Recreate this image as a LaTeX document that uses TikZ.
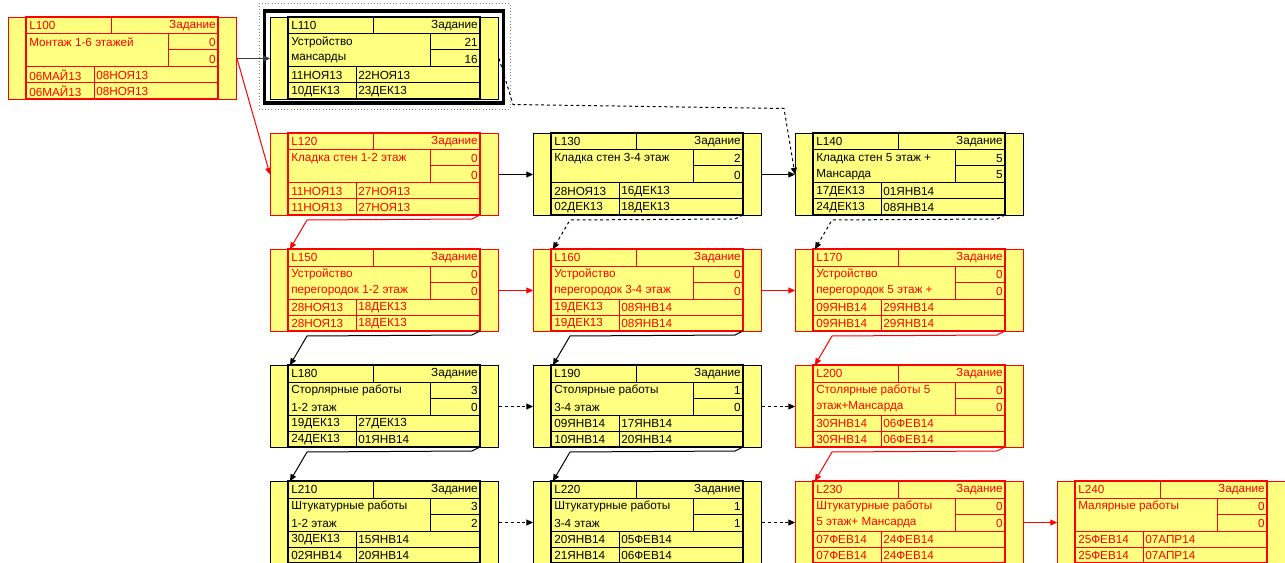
\documentclass[tikz,border=0pt]{standalone}
\usepackage{fontspec}
\setmainfont{Liberation Sans}
\usepackage{tikz}
\usetikzlibrary{arrows.meta}
\definecolor{boxyellow}{RGB}{255,255,128}
\definecolor{critred}{RGB}{255,0,0}
\definecolor{linkgrey}{RGB}{60,60,60}

\tikzset{
  taskbox/.style={rectangle, draw, fill=boxyellow, minimum width=171pt, minimum height=61.5pt, inner sep=0pt, anchor=north west, line width=0.75pt},
  cell/.style={inner sep=0pt, font=\fontsize{8.8}{10}\selectfont},
  tasklink/.style={line width=0.75pt, -{Triangle[length=5pt,width=4.5pt]}},
  critlink/.style={tasklink, critred},
  freelink/.style={tasklink, dash pattern=on 2.2pt off 2.2pt},
}

\begin{document}
\begin{tikzpicture}[x=0.75pt, y=-0.75pt]
    \useasboundingbox (0,0) rectangle (1285,563);
    % selected task frame
    \draw[gray, dotted] (259,3) rectangle (510,109);
    \draw[line width=2.6pt] (264.5,11) rectangle (503.5,103);
    % task boxes
    \foreach \n/\x/\y/\c/\ta/\tb/\na/\nb/\da/\db/\dc/\dd in {
        L100/8/17/critred/{Монтаж 1-6 этажей}/{}/0/0/06МАЙ13/08НОЯ13/06МАЙ13/08НОЯ13,
        L110/270/17/black/Устройство/мансарды/21/16/11НОЯ13/22НОЯ13/10ДЕК13/23ДЕК13,
        L120/270/133/critred/{Кладка стен 1-2 этаж}/{}/0/0/11НОЯ13/27НОЯ13/11НОЯ13/27НОЯ13,
        L130/533/133/black/{Кладка стен 3-4 этаж}/{}/2/0/28НОЯ13/16ДЕК13/02ДЕК13/18ДЕК13,
        L140/795/133/black/{Кладка стен 5 этаж +}/Мансарда/5/5/17ДЕК13/01ЯНВ14/24ДЕК13/08ЯНВ14,
        L150/270/249/critred/Устройство/{перегородок 1-2 этаж}/0/0/28НОЯ13/18ДЕК13/28НОЯ13/18ДЕК13,
        L160/533/249/critred/Устройство/{перегородок 3-4 этаж}/0/0/19ДЕК13/08ЯНВ14/19ДЕК13/08ЯНВ14,
        L170/795/249/critred/Устройство/{перегородок 5 этаж +}/0/0/09ЯНВ14/29ЯНВ14/09ЯНВ14/29ЯНВ14,
        L180/270/365/black/{Сторлярные работы}/{1-2 этаж}/3/0/19ДЕК13/27ДЕК13/24ДЕК13/01ЯНВ14,
        L190/533/365/black/{Столярные работы}/{3-4 этаж}/1/0/09ЯНВ14/17ЯНВ14/10ЯНВ14/20ЯНВ14,
        L200/795/365/critred/{Столярные работы 5}/{этаж+Мансарда}/0/0/30ЯНВ14/06ФЕВ14/30ЯНВ14/06ФЕВ14,
        L210/270/481/black/{Штукатурные работы}/{1-2 этаж}/3/2/30ДЕК13/15ЯНВ14/02ЯНВ14/20ЯНВ14,
        L220/533/481/black/{Штукатурные работы}/{3-4 этаж}/1/1/20ЯНВ14/05ФЕВ14/21ЯНВ14/06ФЕВ14,
        L230/795/481/critred/{Штукатурные работы}/{5 этаж+ Мансарда}/0/0/07ФЕВ14/24ФЕВ14/07ФЕВ14/24ФЕВ14,
        L240/1057/481/critred/{Малярные работы}/{}/0/0/25ФЕВ14/07АПР14/25ФЕВ14/07АПР14}{
        \node[taskbox, draw=\c] (\n) at (\x,\y) {};
        \begin{scope}[shift={(\x,\y)}, color=\c]
            \draw[line width=1.5pt] (18,0) rectangle (210,82);
            \draw[line width=0.75pt] (18,17) -- (210,17) (103,0) -- (103,17)
                (160,17) -- (160,50) (160,33) -- (210,33)
                (18,50) -- (210,50) (18,66) -- (210,66) (86,50) -- (86,82);
            \coordinate (\n-in) at (20,0);
            \coordinate (\n-out) at (210,82);
            \node[cell, anchor=west] (\n-id) at (21,8.5) {\n};
            \node[cell, anchor=east] (\n-kind) at (208,8.5) {Задание};
            \node[cell, anchor=west] (\n-ta) at (21,25.5) {\ta};
            \node[cell, anchor=west] (\n-tb) at (21,42) {\tb};
            \node[cell, anchor=east] (\n-na) at (208,25.5) {\na};
            \node[cell, anchor=east] (\n-nb) at (208,42) {\nb};
            \node[cell, anchor=west] (\n-da) at (21,58.5) {\da};
            \node[cell, anchor=west] (\n-db) at (88,58.5) {\db};
            \node[cell, anchor=west] (\n-dc) at (21,74.5) {\dc};
            \node[cell, anchor=west] (\n-dd) at (88,74.5) {\dd};
        \end{scope}
    }
    % links
    \draw[tasklink, linkgrey] (L100.east) -- (L110.west);
    \draw[critlink] (L100.east) -- (L120.west);
    \draw[freelink] (L110.east) -- ++(14,46) -- ++(271,4) -- (L140.west);
    \foreach \a/\b/\s in {L120/L130/tasklink, L130/L140/tasklink,
        L150/L160/critlink, L160/L170/critlink,
        L180/L190/freelink, L190/L200/freelink,
        L210/L220/freelink, L220/L230/freelink, L230/L240/critlink}
        \draw[\s] (\a.east) -- (\b.west);
    \foreach \a/\b/\s in {L120/L150/critlink, L130/L160/freelink, L140/L170/freelink,
        L150/L180/tasklink, L160/L190/tasklink, L170/L200/critlink,
        L180/L210/tasklink, L190/L220/tasklink, L200/L230/critlink}
        \draw[\s] (\a-out) -- ++(-8,4) -- ++(-165,1) -- (\b-in);
\end{tikzpicture}
\end{document}
